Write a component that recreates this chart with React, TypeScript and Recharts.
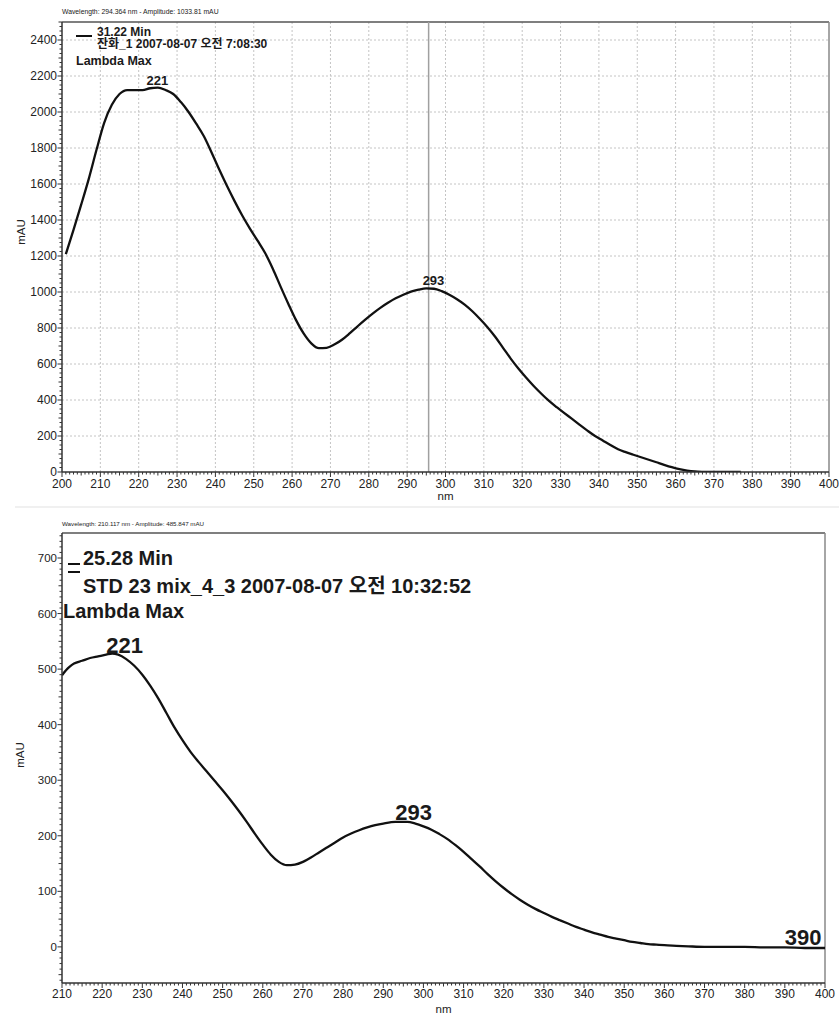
import React from 'react';
import { LineChart, Line, XAxis, YAxis, ReferenceLine, Label } from 'recharts';

const FONT = '"Liberation Sans", Arial, "Noto Sans CJK KR", sans-serif';

// ---------- Top spectrum (31.22 Min) ----------
const topWavelengths = [201, 203, 205, 207, 209, 211, 213, 215, 217, 219, 221, 223, 225, 227, 229, 231, 233, 235, 237, 239, 241, 243, 245, 247, 249, 251, 253, 255, 257, 259, 261, 263, 265, 267, 269, 271, 273, 275, 277, 279, 281, 283, 285, 287, 289, 291, 293, 295, 297, 299, 301, 303, 305, 307, 309, 311, 313, 315, 317, 319, 321, 323, 325, 327, 329, 331, 333, 335, 337, 339, 341, 343, 345, 347, 349, 351, 353, 355, 357, 359, 361, 363, 365, 367, 370, 373, 377];
const topAbsorbance = [1210, 1345, 1485, 1630, 1790, 1940, 2040, 2100, 2122, 2122, 2122, 2132, 2135, 2122, 2100, 2055, 2000, 1935, 1865, 1775, 1680, 1590, 1505, 1425, 1352, 1285, 1215, 1128, 1030, 935, 845, 770, 715, 688, 690, 708, 735, 770, 808, 845, 880, 912, 940, 965, 985, 1002, 1013, 1020, 1018, 1005, 985, 960, 930, 893, 850, 803, 750, 690, 630, 575, 525, 478, 435, 395, 360, 327, 295, 262, 230, 200, 175, 150, 126, 110, 96, 82, 68, 54, 40, 27, 16, 8, 3, 1, 0, 0, 0];
const topPeakNm = [221, 293];
const topPeakLabels = ['221', '293'];
const topCursorNm = 295.6;
const topHeader = 'Wavelength:  294.364 nm  -  Amplitude:  1033.81 mAU';
const topLegendTime = '31.22 Min';
const topLegendSample = '잔화_1 2007-08-07 오전 7:08:30';
const topXLabels = [200, 210, 220, 230, 240, 250, 260, 270, 280, 290, 300, 310, 320, 330, 340, 350, 360, 370, 380, 390, 400];
const topYLabels = [0, 200, 400, 600, 800, 1000, 1200, 1400, 1600, 1800, 2000, 2200, 2400];

// ---------- Bottom spectrum (25.28 Min) ----------
const botWavelengths = [210, 211, 212, 213, 215, 217, 219, 221, 222.5, 224, 226, 228, 230, 232, 234, 236, 238, 240, 242, 244, 246, 248, 250, 252, 254, 256, 258, 260, 262, 264, 266, 268, 270, 272, 274, 276, 278, 280, 282, 284, 286, 288, 290, 293, 296, 298, 300, 302, 304, 306, 308, 310, 312, 314, 316, 318, 320, 322, 324, 326, 328, 330, 332, 334, 336, 338, 340, 342, 344, 346, 348, 350, 352, 354, 356, 358, 360, 363, 366, 370, 375, 380, 385, 390, 395, 400];
const botAbsorbance = [489, 498, 505, 510, 515, 520, 523, 526, 528, 526, 518, 506, 490, 470, 447, 421, 395, 372, 351, 333, 316, 299, 282, 264, 245, 225, 204, 184, 166, 153, 147, 148, 153, 161, 170, 179, 188, 197, 204, 210, 215, 219, 222, 225, 225, 222, 217, 211, 203, 194, 183, 171, 158, 145, 131, 118, 106, 95, 85, 76, 68, 61, 54, 48, 42, 36, 31, 26, 22, 18, 15, 12, 9, 7, 5, 4, 3, 2, 1, 0, 0, 0, -1, -1, -2, -2];
const botPeakNm = [221, 293, 390];
const botPeakLabels = ['221', '293', '390'];
const botHeader = 'Wavelength:  210.117 nm  -  Amplitude:  485.847 mAU';
const botLegendTime = '25.28 Min';
const botLegendSample = 'STD 23 mix_4_3 2007-08-07 오전 10:32:52';
const botXLabels = [210, 220, 230, 240, 250, 260, 270, 280, 290, 300, 310, 320, 330, 340, 350, 360, 370, 380, 390, 400];
const botYLabels = [0, 100, 200, 300, 400, 500, 600, 700];

const lambdaMaxTitle = 'Lambda Max';
const xTitle = 'nm';
const yTitle = 'mAU';

const topData = topWavelengths.map((nm, i) => ({ nm, value: topAbsorbance[i] }));
const botData = botWavelengths.map((nm, i) => ({ nm, value: botAbsorbance[i] }));

const range = (a: number, b: number, step: number) => {
  const out: number[] = [];
  for (let v = a; v <= b + 1e-9; v += step) out.push(Math.round(v * 1000) / 1000);
  return out;
};

const topXTicks = range(200, 400, 1);
const topYTicks = range(0, 2500, 25);
const botXTicks = range(210, 400, 1);
const botYTicks = range(-60, 740, 10);

const makeXTick = (labels: number[], fontSize: number, labelDy: number) => (props: any) => {
  const { x, y, payload, index } = props;
  const v = payload.value;
  const isMajor = labels.includes(v);
  const isMid = v % 5 === 0;
  return (
    <g key={`xt${index}`}>
      <line x1={x} x2={x} y1={y} y2={y + (isMajor ? 5 : isMid ? 3.5 : 2.5)} stroke="#333" strokeWidth={1} />
      {isMajor && (
        <text x={x} y={y + labelDy} textAnchor="middle" dominantBaseline="central" fontSize={fontSize} fill="#222" fontFamily={FONT}>
          {v}
        </text>
      )}
    </g>
  );
};

const makeYTick = (labels: number[], fontSize: number, midStep: number) => (props: any) => {
  const { x, y, payload, index } = props;
  const v = payload.value;
  const isMajor = labels.includes(v);
  const isMid = Math.abs(v % midStep) < 1e-6;
  return (
    <g key={`yt${index}`}>
      <line x1={x - (isMajor ? 4.5 : isMid ? 3.5 : 2.5)} x2={x} y1={y} y2={y} stroke="#333" strokeWidth={1} />
      {isMajor && (
        <text x={x - 5} y={y} textAnchor="end" dominantBaseline="central" fontSize={fontSize} fill="#222" fontFamily={FONT}>
          {v}
        </text>
      )}
    </g>
  );
};

const makePeakDot = (peaks: number[], labels: string[], fontSize: number, dx: number, dy: number) => (props: any) => {
  const { cx, cy, payload, index } = props;
  const k = payload ? peaks.indexOf(payload.nm) : -1;
  if (k < 0 || cx == null || cy == null) return <g key={`pd${index}`} />;
  return (
    <text key={`pd${index}`} x={cx + dx} y={cy + dy} fontSize={fontSize} fontWeight="bold" fill="#1a1a1a" fontFamily={FONT}>
      {labels[k]}
    </text>
  );
};

const makeYTitle = (dx: number, dy: number) => (props: any) => {
  const vb = props.viewBox || { x: 12, y: 22, width: 50, height: 450 };
  const cx = vb.x + dx;
  const cy = vb.y + vb.height / 2 + dy;
  return (
    <text x={cx} y={cy} transform={`rotate(-90 ${cx} ${cy})`} textAnchor="middle" dominantBaseline="central" fontSize={11.5} fill="#222" fontFamily={FONT}>
      {yTitle}
    </text>
  );
};

const TextAt = ({ x, cy, size, bold = true, children }: any) => (
  <div
    style={{
      position: 'absolute',
      left: x,
      top: cy - size / 2,
      fontSize: size,
      lineHeight: 1,
      fontWeight: bold ? 'bold' : 'normal',
      fontFamily: FONT,
      color: '#1a1a1a',
      whiteSpace: 'nowrap',
    }}
  >
    {children}
  </div>
);

const gridXTop = range(210, 390, 10);
const gridYTop = range(200, 2400, 200);

export default function App() {
  return (
    <div style={{ position: 'absolute', left: 0, top: 0, width: 839, height: 1015, background: '#fff', overflow: 'hidden', fontFamily: FONT }}>
      {/* Top chart */}
      <div style={{ position: 'absolute', left: 0, top: 0 }}>
        <LineChart width={839} height={510} data={topData} margin={{ top: 22, right: 10, bottom: 8, left: 12 }}>
          <XAxis
            dataKey="nm"
            type="number"
            domain={[200, 400]}
            ticks={topXTicks}
            interval={0}
            tickLine={false}
            tickSize={0}
            tickMargin={0}
            tick={makeXTick(topXLabels, 12, 12)}
            axisLine={{ stroke: '#333', strokeWidth: 1.5 }}
            height={30}
            allowDataOverflow
          >
            <Label value={xTitle} position="insideBottom" offset={2} style={{ fontSize: 11.5, fill: '#222', fontFamily: FONT }} />
          </XAxis>
          <YAxis
            type="number"
            domain={[0, 2500]}
            ticks={topYTicks}
            interval={0}
            tickLine={false}
            tickSize={0}
            tickMargin={0}
            tick={makeYTick(topYLabels, 12, 100)}
            axisLine={{ stroke: '#333', strokeWidth: 1.5 }}
            width={50}
            allowDataOverflow
          >
            <Label content={makeYTitle(9, -15)} />
          </YAxis>
          {gridXTop.map((v) => (
            <ReferenceLine key={`gx${v}`} x={v} stroke="#c4c4c4" strokeDasharray="2 2" strokeWidth={1} />
          ))}
          {gridYTop.map((v) => (
            <ReferenceLine key={`gy${v}`} y={v} stroke="#c4c4c4" strokeDasharray="2 2" strokeWidth={1} />
          ))}
          <ReferenceLine y={2500} stroke="#555" strokeWidth={1.5} />
          <ReferenceLine x={400} stroke="#888" strokeWidth={1.5} />
          <ReferenceLine x={topCursorNm} stroke="#a0a0a0" strokeWidth={1.5} />
          <Line
            dataKey="value"
            type="monotone"
            stroke="#111"
            strokeWidth={2.3}
            dot={makePeakDot(topPeakNm, topPeakLabels, 13, 4, -5)}
            activeDot={false}
            isAnimationActive={false}
          />
        </LineChart>
      </div>

      {/* Bottom chart */}
      <div style={{ position: 'absolute', left: 0, top: 510 }}>
        <LineChart width={839} height={505} data={botData} margin={{ top: 23, right: 14, bottom: 2, left: 12 }}>
          <XAxis
            dataKey="nm"
            type="number"
            domain={[210, 400]}
            ticks={botXTicks}
            interval={0}
            tickLine={false}
            tickSize={0}
            tickMargin={0}
            tick={makeXTick(botXLabels, 12, 11)}
            axisLine={{ stroke: '#333', strokeWidth: 1.5 }}
            height={30}
            allowDataOverflow
          >
            <Label value={xTitle} position="insideBottom" offset={0} style={{ fontSize: 11.5, fill: '#222', fontFamily: FONT }} />
          </XAxis>
          <YAxis
            type="number"
            domain={[-65, 745]}
            ticks={botYTicks}
            interval={0}
            tickLine={false}
            tickSize={0}
            tickMargin={0}
            tick={makeYTick(botYLabels, 11.5, 50)}
            axisLine={{ stroke: '#333', strokeWidth: 1.5 }}
            width={50}
            allowDataOverflow
          >
            <Label content={makeYTitle(8, -3)} />
          </YAxis>
          <ReferenceLine y={745} stroke="#555" strokeWidth={1.5} />
          <ReferenceLine x={400} stroke="#888" strokeWidth={1.5} />
          <Line
            dataKey="value"
            type="monotone"
            stroke="#111"
            strokeWidth={2.3}
            dot={makePeakDot(botPeakNm, botPeakLabels, 22, 0, -2)}
            activeDot={false}
            isAnimationActive={false}
          />
        </LineChart>
      </div>

      {/* Headers */}
      <TextAt x={62} cy={12} size={6.8} bold={false}>{topHeader}</TextAt>
      <TextAt x={62} cy={524} size={6.2} bold={false}>{botHeader}</TextAt>

      {/* Top legend */}
      <div style={{ position: 'absolute', left: 76, top: 35, width: 16, height: 2, background: '#111' }} />
      <TextAt x={97} cy={32} size={12}>{topLegendTime}</TextAt>
      <TextAt x={97} cy={44} size={12}>{topLegendSample}</TextAt>
      <TextAt x={76} cy={61} size={12.5}>{lambdaMaxTitle}</TextAt>

      {/* Bottom legend */}
      <div style={{ position: 'absolute', left: 68, top: 563, width: 12, height: 2, background: '#111' }} />
      <div style={{ position: 'absolute', left: 68, top: 571, width: 12, height: 1.5, background: '#111' }} />
      <TextAt x={83} cy={558} size={20}>{botLegendTime}</TextAt>
      <TextAt x={83} cy={586} size={20}>{botLegendSample}</TextAt>
      <TextAt x={63} cy={611} size={20}>{lambdaMaxTitle}</TextAt>

      {/* faint separator */}
      <div style={{ position: 'absolute', left: 15, top: 506, width: 824, height: 2, background: '#f0f0f0' }} />
    </div>
  );
}
